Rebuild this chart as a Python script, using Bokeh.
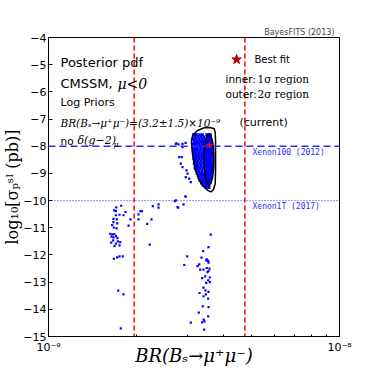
import math
from bokeh.plotting import figure
from bokeh.models import (Span, Label, FixedTicker, CustomJSTickFormatter)
from bokeh.embed import file_html
from bokeh.resources import INLINE

# ---------------- data (BR in units of 1e-9, log10 sigma) ----------------
cloud_pts = [
    (3.15, -7.58), (3.22, -7.58), (3.30, -7.58), (3.38, -7.58), (3.50, -7.58), (3.60, -7.58),
    (3.18, -7.66), (3.26, -7.66), (3.34, -7.66), (3.42, -7.66),
    (3.14, -7.74), (3.21, -7.74), (3.29, -7.74), (3.37, -7.74), (3.45, -7.74),
    (3.17, -7.83), (3.25, -7.83), (3.33, -7.83), (3.41, -7.83),
    (3.14, -7.91), (3.20, -7.91), (3.28, -7.91), (3.36, -7.91), (3.44, -7.91),
    (3.16, -8.00), (3.23, -8.00), (3.31, -8.00), (3.39, -8.00),
    (3.15, -8.09), (3.21, -8.09), (3.27, -8.09), (3.35, -8.09), (3.43, -8.09),
    (3.17, -8.18), (3.24, -8.18), (3.32, -8.18), (3.40, -8.18),
    (3.15, -8.27), (3.20, -8.27), (3.28, -8.27), (3.36, -8.27), (3.44, -8.27),
    (3.18, -8.36), (3.25, -8.36), (3.33, -8.36), (3.41, -8.36),
    (3.16, -8.45), (3.22, -8.45), (3.30, -8.45), (3.38, -8.45),
    (3.19, -8.54), (3.26, -8.54), (3.34, -8.54), (3.42, -8.54),
    (3.17, -8.63), (3.23, -8.63), (3.31, -8.63), (3.39, -8.63),
    (3.20, -8.72), (3.27, -8.72), (3.35, -8.72), (3.43, -8.72),
    (3.19, -8.81), (3.25, -8.81), (3.32, -8.81), (3.40, -8.81),
    (3.22, -8.90), (3.29, -8.90), (3.37, -8.90),
    (3.24, -8.99), (3.31, -8.99), (3.38, -8.99), (3.45, -8.99),
    (3.27, -9.08), (3.34, -9.08), (3.41, -9.08),
    (3.29, -9.17), (3.36, -9.17), (3.44, -9.17),
    (3.32, -9.26), (3.39, -9.26), (3.47, -9.26),
    (3.36, -9.35), (3.43, -9.35), (3.50, -9.35),
    (3.40, -9.44), (3.47, -9.44), (3.55, -9.44),
    (3.48, -9.52), (3.56, -9.52),
]
near_pts = [
    (2.754, -7.89), (2.797, -7.93), (2.887, -7.91), (2.739, -7.91), (2.96, -7.88),
    (2.89, -8.03), (2.871, -8.40), (2.813, -8.40), (2.849, -8.64), (2.887, -8.77),
    (2.981, -8.89), (3.004, -9.01), (2.964, -9.14), (3.045, -9.19), (3.083, -9.32),
    (2.964, -9.85), (2.739, -9.99), (2.776, -10.24),
]
left_pts = [
    (1.777, -10.19), (1.709, -10.25), (1.682, -10.36), (1.705, -10.39), (1.839, -10.42),
    (1.754, -10.52), (1.810, -10.54), (1.705, -10.54), (1.672, -10.67), (1.717, -10.69),
    (1.672, -10.79), (1.722, -10.84), (1.655, -10.90), (1.884, -10.92), (1.713, -11.02),
    (1.677, -10.99), (1.629, -11.22), (1.655, -11.25), (1.682, -11.23), (1.646, -11.33),
    (1.672, -11.35), (1.705, -11.31), (1.726, -11.38), (1.668, -11.46), (1.731, -11.50),
    (1.764, -11.53), (1.643, -11.55), (1.705, -11.58), (1.754, -11.65), (1.686, -11.67),
    (1.677, -12.14), (1.722, -12.09), (1.754, -12.05), (1.800, -12.05), (1.736, -13.31),
    (1.810, -13.45), (1.772, -14.70),
]
mid_pts = [
    (2.950, -9.85), (2.716, -10.02), (2.911, -10.14), (2.791, -10.26), (2.388, -10.14),
    (2.388, -10.26), (2.283, -10.20), (2.071, -10.39), (2.092, -10.39), (2.038, -10.51),
    (2.038, -10.69), (1.913, -10.69), (2.259, -10.69), (2.184, -10.86), (2.229, -11.62),
]
low_pts = [
    (2.997, -12.05), (2.927, -12.37), (3.083, -14.49), (3.547, -11.71), (3.401, -11.86),
    (3.356, -12.10), (3.499, -12.16), (3.538, -12.22), (3.547, -12.28), (3.483, -12.20),
    (3.295, -12.35), (3.251, -12.41), (3.321, -12.54), (3.409, -12.54), (3.499, -12.48),
    (3.575, -12.50), (3.520, -12.63), (3.547, -12.59), (3.455, -12.79), (3.374, -12.85),
    (3.584, -12.83), (3.538, -12.93), (3.483, -13.03), (3.584, -13.00), (3.409, -13.20),
    (3.464, -13.30), (3.303, -13.40), (3.547, -13.36), (3.472, -13.45), (3.409, -13.52),
    (3.538, -13.61), (3.390, -13.89), (3.547, -13.92), (3.285, -14.12), (3.538, -14.26),
    (3.414, -14.38), (3.374, -14.48), (3.436, -14.44), (3.428, -14.75), (3.61, -11.25),
]
outer_br = [3.10, 3.13, 3.25, 3.43, 3.60, 3.71, 3.74, 3.75, 3.75, 3.75, 3.74, 3.69,
            3.62, 3.53, 3.41, 3.30, 3.18, 3.13, 3.11, 3.10]
outer_sig = [-7.79, -7.60, -7.42, -7.32, -7.31, -7.36, -7.49, -7.79, -8.34, -8.89, -9.38,
             -9.59, -9.68, -9.63, -9.48, -9.26, -8.77, -8.34, -8.08, -7.79]
inner_br = [3.561, 3.615, 3.661, 3.693, 3.704, 3.693, 3.661, 3.615, 3.561, 3.508, 3.464,
            3.434, 3.423, 3.434, 3.464, 3.508]
inner_sig = [-7.53, -7.60, -7.81, -8.12, -8.49, -8.85, -9.16, -9.37, -9.44, -9.37, -9.16,
             -8.85, -8.49, -8.12, -7.81, -7.60]
best_fit = (3.566, -7.97)
bs_limits = [1.97, 4.73]          # red dashed lines (1e-9)
xenon100 = -8.0
xenon1t = -10.0
legend_star = (4.43, -4.81)
y_ticks = list(range(-15, -3))
x_major = [1e-9, 1e-8]
x_minor = [k * 1e-9 for k in range(2, 10)]

S = 1e-9
sparse_pts = near_pts + left_pts + mid_pts + low_pts

p = figure(frame_width=291, frame_height=299, x_axis_type="log", x_range=(1e-9, 1e-8),
           y_range=(-15, -4), output_backend="svg", toolbar_location=None,
           min_border_left=46, min_border_right=30, min_border_top=37,
           min_border_bottom=34)
p.grid.visible = False
p.outline_line_color = "black"
p.outline_line_width = 1
p.background_fill_color = "white"
p.border_fill_color = "white"

# title used for the credit text above the frame
p.title.text = "BayesFITS (2013)"
p.title.align = "right"
p.title.text_font = "DejaVu Sans"
p.title.text_font_size = "8px"
p.title.text_font_style = "normal"
p.title.standoff = 2
p.title.offset = 5

# axes
xa = p.xaxis[0]
ya = p.yaxis[0]
xa.ticker = FixedTicker(ticks=x_major, minor_ticks=x_minor)
xa.formatter = CustomJSTickFormatter(code="return tick < 5e-9 ? '10\u207b\u2079' : '10\u207b\u2078';")
ya.ticker = FixedTicker(ticks=y_ticks)
ya.formatter = CustomJSTickFormatter(code="return (tick < 0 ? '\u2212' : '') + Math.abs(Math.round(tick));")
for ax in (xa, ya):
    ax.major_tick_in = 4
    ax.major_tick_out = 0
    ax.minor_tick_in = 2
    ax.minor_tick_out = 0
    ax.axis_line_color = "black"
    ax.major_tick_line_color = "black"
    ax.minor_tick_line_color = "black"
    ax.major_label_text_font = "DejaVu Sans"
    ax.major_label_text_font_size = "11px"
    ax.major_label_text_color = "black"
xa.major_label_standoff = 4
ya.major_label_standoff = 2

ya.axis_label = "log\u2081\u2080[\u03c3\u209a\u02e2\u1d35 (pb)]"
ya.axis_label_text_font = "DejaVu Serif"
ya.axis_label_text_font_size = "16px"
ya.axis_label_text_font_style = "normal"
ya.axis_label_text_color = "black"
ya.axis_label_standoff = -2

xa.axis_label = "BR(B\u209b\u2192\u03bc\u207a\u03bc\u207b)"
xa.axis_label_text_font = "DejaVu Serif"
xa.axis_label_text_font_size = "18px"
xa.axis_label_text_font_style = "italic"
xa.axis_label_text_color = "black"
xa.axis_label_standoff = -12

# scatter
p.scatter([b * S for b, _ in cloud_pts], [s for _, s in cloud_pts], marker="square",
          size=3.0, fill_color="blue", line_color=None)
p.scatter([b * S for b, _ in sparse_pts], [s for _, s in sparse_pts], marker="square",
          size=2.2, fill_color="blue", line_color=None)

# contours
p.line([b * S for b in outer_br], outer_sig, line_color="black", line_width=1.5)
p.patch([b * S for b in inner_br], inner_sig, fill_color="#0000ff", fill_alpha=1.0,
        line_color="black", line_width=1.5)
p.scatter([best_fit[0] * S], [best_fit[1]], marker="star", size=6,
          fill_color="red", line_color="red")

# reference lines
for v in bs_limits:
    p.add_layout(Span(location=v * S, dimension="height", line_color="red",
                      line_dash="5 3", line_width=1.5))
p.add_layout(Span(location=xenon100, dimension="width", line_color="#2a2aff",
                  line_dash="7 4", line_width=1.5))
p.add_layout(Span(location=xenon1t, dimension="width", line_color="#2a2aff",
                  line_dash="1 2", line_width=1))

# legend star
p.scatter([legend_star[0] * S], [legend_star[1]], marker="star", size=10,
          fill_color="#aa0000", line_color="#aa0000")

FL, FB = 46, 336


def lab(px, py, text, size, font="DejaVu Sans", style="normal", align="left",
        baseline="middle", color="black", angle=0.0):
    p.add_layout(Label(x=px - FL, y=FB - py, x_units="screen", y_units="screen",
                       text=text, text_font=font, text_font_size=f"{size}px",
                       text_font_style=style, text_align=align,
                       text_baseline=baseline, text_color=color, angle=angle))


lab(58, 62, "Posterior pdf", 13)
lab(58, 83, "CMSSM,", 13)
lab(115, 83, "\u03bc<0", 14, font="DejaVu Serif", style="italic")
lab(58, 102, "Log Priors", 11)
lab(58, 122, "BR(B\u209b\u2192\u03bc\u207a\u03bc\u207b)=(3.2\u00b11.5)\u00d710\u207b\u2079", 10.5,
    font="DejaVu Serif", style="italic")
lab(237, 122, "(current)", 11)
lab(58, 140, "no", 10.5)
lab(75, 140, "\u03b4(g\u22122)", 11, font="DejaVu Serif", style="italic")
lab(111, 144, "\u03bc", 8, font="DejaVu Serif", style="italic")
lab(252, 59, "Best fit", 10)
lab(223, 78, "inner:", 10.5)
lab(255, 78, "1\u03c3 region", 10.5, font="DejaVu Serif")
lab(223, 93, "outer:", 10.5)
lab(255, 93, "2\u03c3 region", 10.5, font="DejaVu Serif")
lab(250, 152, "Xenon100 (2012)", 8, font="DejaVu Sans Mono", color="#2a2aff")
lab(250, 206, "Xenon1T (2017)", 8, font="DejaVu Sans Mono", color="#2a2aff")

open("out.html", "w").write(file_html(p, INLINE))
